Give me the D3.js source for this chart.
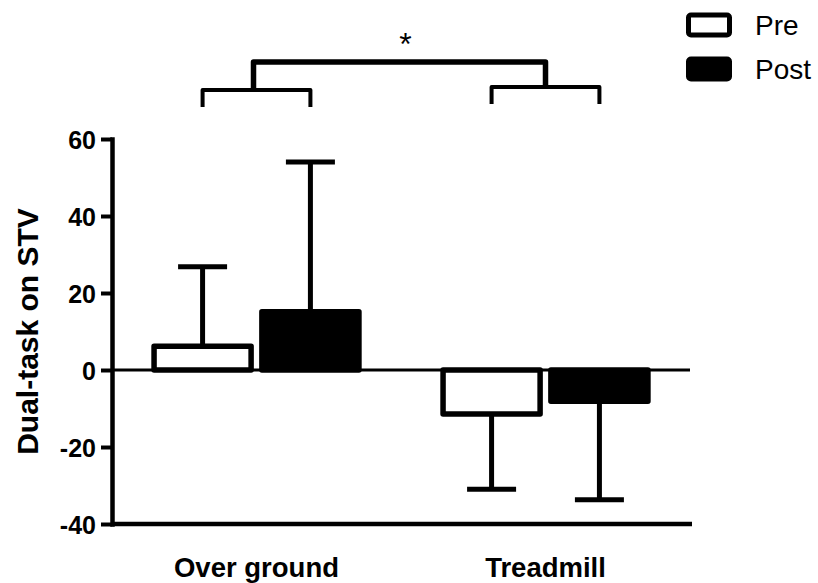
<!DOCTYPE html>
<html>
<head>
<meta charset="utf-8">
<script src="https://cdn.jsdelivr.net/npm/d3@7"></script>
<style>
  html, body { margin: 0; padding: 0; background: #fff; }
  svg { display: block; }
  text { font-family: "Liberation Sans", Arial, Helvetica, sans-serif; fill: #000; }
</style>
</head>
<body>
<svg id="chart" width="818" height="583"></svg>
<script>
// Dual-task effect on STV, pre vs post, by walking condition (mean + one-sided SD)
const conditions = ["Over ground", "Treadmill"];
const phases = ["Pre", "Post"];
const preMean = [6.2, -11.4];
const postMean = [15.1, -8.1];
const preSD = [20.6, 19.6];
const postSD = [38.9, 25.6];
const yTicks = [-40, -20, 0, 20, 40, 60];
const yLabel = "Dual-task on STV";
const sigMark = "*";

const rows = conditions.flatMap((c, i) => [
  { cond: c, phase: "Pre", mean: preMean[i], sd: preSD[i] },
  { cond: c, phase: "Post", mean: postMean[i], sd: postSD[i] }
]);

const svg = d3.select("#chart");
const plotLeft = 112, plotRight = 690, plotTop = 139, plotBottom = 524;

const x0 = d3.scaleBand().domain(conditions).range([plotLeft, plotRight]).paddingInner(0).paddingOuter(0);
const x1 = d3.scaleBand().domain(phases).range([0, x0.bandwidth()]).paddingInner(0.1).paddingOuter(0.39);
const y = d3.scaleLinear().domain([-40, 60]).range([plotBottom, plotTop]);

const fillOf = { Pre: "#fff", Post: "#000" };
const barStroke = 5.5;

// Y axis (plain hyphen for negative labels)
const yAxis = svg.append("g")
  .attr("transform", `translate(${plotLeft},0)`)
  .call(d3.axisLeft(y).tickValues(yTicks).tickFormat(d => String(d))
    .tickSize(11).tickPadding(5).tickSizeOuter(0));
yAxis.select(".domain").attr("stroke", "#000").attr("stroke-width", 4.5).attr("stroke-linecap", "square");
yAxis.selectAll(".tick line").attr("stroke", "#000").attr("stroke-width", 4);
yAxis.selectAll(".tick text")
  .style("font-size", "25px").style("font-weight", "bold")
  .attr("dy", "0.36em");

// Bottom axis line (at the lowest tick)
svg.append("line")
  .attr("x1", plotLeft).attr("x2", plotRight + 2)
  .attr("y1", y(-40)).attr("y2", y(-40))
  .attr("stroke", "#000").attr("stroke-width", 4.5);

// Category labels
svg.append("g").selectAll("text")
  .data(conditions)
  .join("text")
  .attr("x", d => x0(d) + x0.bandwidth() / 2)
  .attr("y", 577)
  .attr("text-anchor", "middle")
  .style("font-size", "27.5px").style("font-weight", "bold")
  .text(d => d);

// Y axis title
svg.append("text")
  .attr("transform", `translate(38,${(plotTop + plotBottom) / 2}) rotate(-90)`)
  .attr("text-anchor", "middle")
  .style("font-size", "30px").style("font-weight", "bold")
  .text(yLabel);

// Error bars (one-sided, away from zero)
const capW = 49;
const errEnd = d => d.mean >= 0 ? d.mean + d.sd : d.mean - d.sd;
const cx = d => x0(d.cond) + x1(d.phase) + x1.bandwidth() / 2;
const eg = svg.append("g").attr("stroke", "#000").attr("stroke-width", 5);
eg.selectAll("line.stem").data(rows).join("line").attr("class", "stem")
  .attr("x1", cx).attr("x2", cx)
  .attr("y1", d => y(d.mean)).attr("y2", d => y(errEnd(d)));
eg.selectAll("line.cap").data(rows).join("line").attr("class", "cap")
  .attr("x1", d => cx(d) - capW / 2).attr("x2", d => cx(d) + capW / 2)
  .attr("y1", d => y(errEnd(d))).attr("y2", d => y(errEnd(d)));

// Bars
svg.append("g").selectAll("rect")
  .data(rows)
  .join("rect")
  .attr("x", d => x0(d.cond) + x1(d.phase))
  .attr("width", x1.bandwidth())
  .attr("y", d => y(Math.max(0, d.mean)))
  .attr("height", d => Math.abs(y(d.mean) - y(0)))
  .attr("fill", d => fillOf[d.phase])
  .attr("stroke", "#000")
  .attr("stroke-width", barStroke)
  .attr("stroke-linejoin", "round");

// Zero line
svg.append("line")
  .attr("x1", plotLeft).attr("x2", plotRight)
  .attr("y1", y(0)).attr("y2", y(0))
  .attr("stroke", "#000").attr("stroke-width", 3.2);

// Significance brackets
const brk = svg.append("g").attr("fill", "none").attr("stroke", "#000").attr("stroke-linejoin", "round");
const pairTop = { "Over ground": [90, 107], "Treadmill": [87, 104] };
conditions.forEach(c => {
  const xa = x0(c) + x1("Pre") + x1.bandwidth() / 2;
  const xb = x0(c) + x1("Post") + x1.bandwidth() / 2;
  const [t, b] = pairTop[c];
  brk.append("path")
    .attr("stroke-width", 4)
    .attr("d", `M${xa},${b}V${t}H${xb}V${b}`);
});
const ga = x0(conditions[0]) + x0.bandwidth() / 2 - 3;
const gb = x0(conditions[1]) + x0.bandwidth() / 2;
brk.append("path")
  .attr("stroke-width", 5.5)
  .attr("d", `M${ga},88V62H${gb}V87`);
svg.append("text")
  .attr("x", (ga + gb) / 2 + 6).attr("y", 55)
  .attr("text-anchor", "middle")
  .style("font-size", "32px")
  .text(sigMark);

// Legend
const lg = svg.append("g");
phases.forEach((p, i) => {
  const yy = 15 + i * 44;
  lg.append("rect")
    .attr("x", 688.5).attr("y", yy).attr("width", 41).attr("height", 20)
    .attr("rx", 2.5)
    .attr("fill", fillOf[p]).attr("stroke", "#000").attr("stroke-width", 5);
  lg.append("text")
    .attr("x", 755).attr("y", yy + 20)
    .style("font-size", "28px")
    .text(p);
});
</script>
</body>
</html>
